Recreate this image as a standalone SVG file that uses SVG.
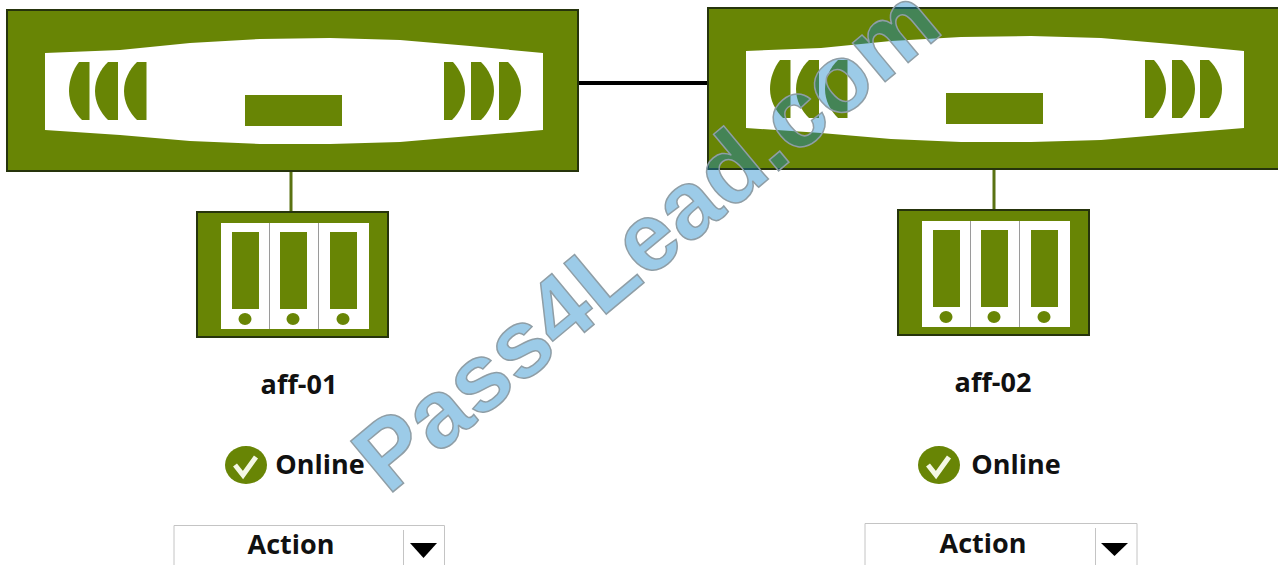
<svg xmlns="http://www.w3.org/2000/svg" width="1278" height="565" viewBox="0 0 1278 565">
<style>
.o{fill:#688505}
.b{stroke:#26340c;stroke-width:2}
.w{fill:#fff}
.d{fill:none;stroke:#9a9a9a;stroke-width:1}
text{font-family:"Open Sans","Noto Sans","Liberation Sans",sans-serif;font-weight:700;fill:#111;text-anchor:middle}
.n{font-size:27px}
.wm{font-family:"Liberation Sans",Arial,sans-serif;font-size:96px;fill:#1484c8;fill-opacity:.42;stroke:#8f9ea6;stroke-width:1.500;text-anchor:start}
</style>
<defs>
<g id="ctrl">
<rect class="o b" x="7" y="10" width="571" height="161"/>
<path class="w" d="M45 53 L120 50 L190 43 L260 39 L330 38 L400 40 L470 46 L543 53 L543 130 L470 136 L400 142 L330 144 L260 144 L190 141 L120 135 L45 130Z"/>
<rect class="o" x="245" y="95" width="97" height="31"/>
<path class="o" d="M89.500 62V120H82C74 112 69 102 69 91C69 80 73 70 79 62Z"/>
<path class="o" d="M118 62V120H108C100 112 95 102 95 91C95 80 100 70 108 62Z"/>
<path class="o" d="M146.500 62V120H137C129 112 124 102 124 91C124 80 129 70 137 62Z"/>
<path class="o" d="M444 62V120H452C460 112 465 102 465 91C465 80 460 70 453 62Z"/>
<path class="o" d="M471 62V120H481C489 112 494 102 494 91C494 80 489 70 481 62Z"/>
<path class="o" d="M499 62V120H508C516 112 521 102 521 91C521 80 516 70 508 62Z"/>
</g>
<g id="store">
<rect class="o b" x="197" y="212" width="191" height="125"/>
<rect class="w" x="221" y="223" width="148" height="106"/>
<path class="d" d="M269.500 223V329M318.500 223V329"/>
<rect class="o" x="232" y="232" width="27" height="77"/>
<rect class="o" x="280" y="232" width="27" height="77"/>
<rect class="o" x="330" y="232" width="27" height="77"/>
<ellipse class="o" cx="245" cy="319" rx="6.500" ry="6"/>
<ellipse class="o" cx="293" cy="319" rx="6.500" ry="6"/>
<ellipse class="o" cx="343" cy="319" rx="6.500" ry="6"/>
</g>
<g id="ok">
<ellipse class="o" cx="246" cy="465" rx="21" ry="19"/>
<path d="M235 465l8 10 13-18" fill="none" stroke="#f4f8e4" stroke-width="5"/>
</g>
</defs>
<rect width="1278" height="565" fill="#fff"/>
<g id="connectors">
<path d="M578 83H707" stroke="#000" stroke-width="4" fill="none"/>
<path d="M291 171V212M994 168V210" stroke="#5a7212" stroke-width="3" fill="none"/>
</g>
<g id="aff-01-controller"><use href="#ctrl"/></g>
<g id="aff-02-controller"><use href="#ctrl" x="701" y="-2"/></g>
<g id="aff-01-storage"><use href="#store"/></g>
<g id="aff-02-storage"><use href="#store" x="701" y="-2"/></g>
<g id="aff-01-label"><text class="n" x="299" y="394">aff-01</text></g>
<g id="aff-02-label"><text class="n" x="993" y="392">aff-02</text></g>
<g id="aff-01-status"><use href="#ok"/><text class="n" x="320" y="474">Online</text></g>
<g id="aff-02-status"><use href="#ok" x="693"/><text class="n" x="1016" y="474">Online</text></g>
<g id="aff-01-action">
<path d="M174 565V525.500H444.500V565M403.500 530V565" fill="none" stroke="#c4c4c4"/>
<text class="n" x="291" y="554">Action</text>
<path d="M410 543H437L423.500 558Z" fill="#000"/>
</g>
<g id="aff-02-action">
<path d="M865 565V523.500H1137V565M1095.500 528V565" fill="none" stroke="#c4c4c4"/>
<text class="n" x="983" y="553">Action</text>
<path d="M1101 543H1128L1114.500 556Z" fill="#000"/>
</g>
<text class="wm" transform="translate(388 496) rotate(-39.800)">Pass4Lead.com</text>
</svg>
